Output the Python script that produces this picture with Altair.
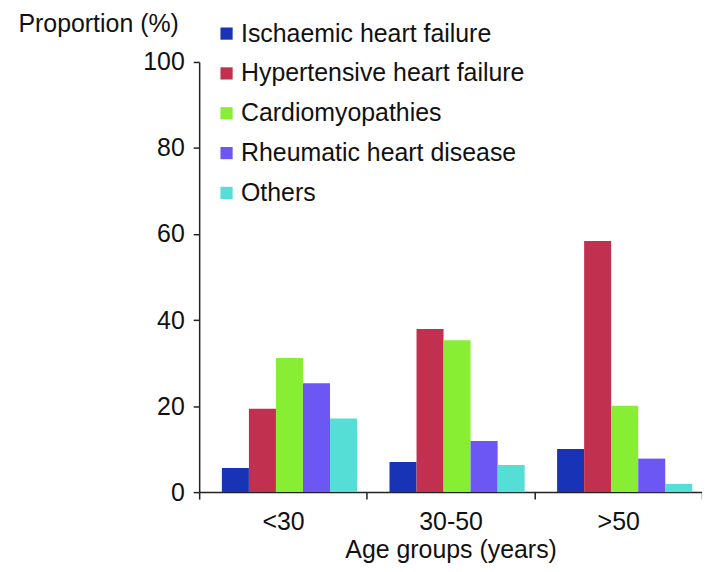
import altair as alt
import pandas as pd

groups = ["<30", "30-50", ">50"]
causes = ["Ischaemic heart failure", "Hypertensive heart failure", "Cardiomyopathies",
          "Rheumatic heart disease", "Others"]
colors = ["#1833B5", "#C1304F", "#88EE33", "#6C57F5", "#55DED6"]

ischaemic = [5.6, 7.0, 10.0]
hypertensive = [19.4, 37.9, 58.4]
cardiomyopathies = [31.2, 35.3, 20.1]
rheumatic = [25.3, 11.9, 7.8]
others = [17.1, 6.3, 1.9]

series = [ischaemic, hypertensive, cardiomyopathies, rheumatic, others]
rows = []
for cause, vals in zip(causes, series):
    for g, v in zip(groups, vals):
        rows.append({"group": g, "cause": cause, "value": v})
df = pd.DataFrame(rows)

FONT = "Liberation Sans"
FS = 25

chart = alt.Chart(df).mark_bar().encode(
    x=alt.X("group:N", sort=groups,
            scale=alt.Scale(paddingInner=0, paddingOuter=0),
            axis=alt.Axis(title="Age groups (years)", labelAngle=0, tickBand="extent",
                          tickSize=7, tickWidth=1.5, tickColor="#222",
                          domainColor="#222", domainWidth=1.5,
                          labelPadding=11, labelFontSize=FS, labelFont=FONT, labelColor="#111",
                          titleFontSize=FS, titleFont=FONT, titleFontWeight="normal",
                          titleColor="#111", titlePadding=3)),
    xOffset=alt.XOffset("cause:N", sort=causes,
                        scale=alt.Scale(paddingInner=0, paddingOuter=0.6, align=0.7)),
    y=alt.Y("value:Q", scale=alt.Scale(domain=[0, 100]),
            axis=alt.Axis(values=[0, 20, 40, 60, 80, 100], grid=False,
                          tickSize=6, tickWidth=1.5, tickColor="#222",
                          domainColor="#222", domainWidth=1.5,
                          labelPadding=9, labelFontSize=FS, labelFont=FONT, labelColor="#111",
                          title="Proportion (%)", titleAngle=0, titleAlign="left",
                          titleBaseline="middle", titleX=-182, titleY=-39,
                          titleFontSize=FS, titleFont=FONT, titleFontWeight="normal",
                          titleColor="#111")),
    color=alt.Color("cause:N", sort=causes,
                    scale=alt.Scale(domain=causes, range=colors),
                    legend=alt.Legend(title=None, orient="none", legendX=15, legendY=-41,
                                      symbolType="square", symbolSize=150,
                                      symbolStrokeWidth=0, labelFontSize=FS,
                                      labelFont=FONT, labelColor="#111", labelLimit=0,
                                      labelOffset=2, rowPadding=14)),
).properties(
    width=505, height=432,
    autosize=alt.AutoSizeParams(type="none"),
    padding={"left": 192, "top": 53, "right": 0, "bottom": 71},
).configure_view(stroke=None)

chart.save("out.html", embed_options={"renderer": "svg", "actions": False})
